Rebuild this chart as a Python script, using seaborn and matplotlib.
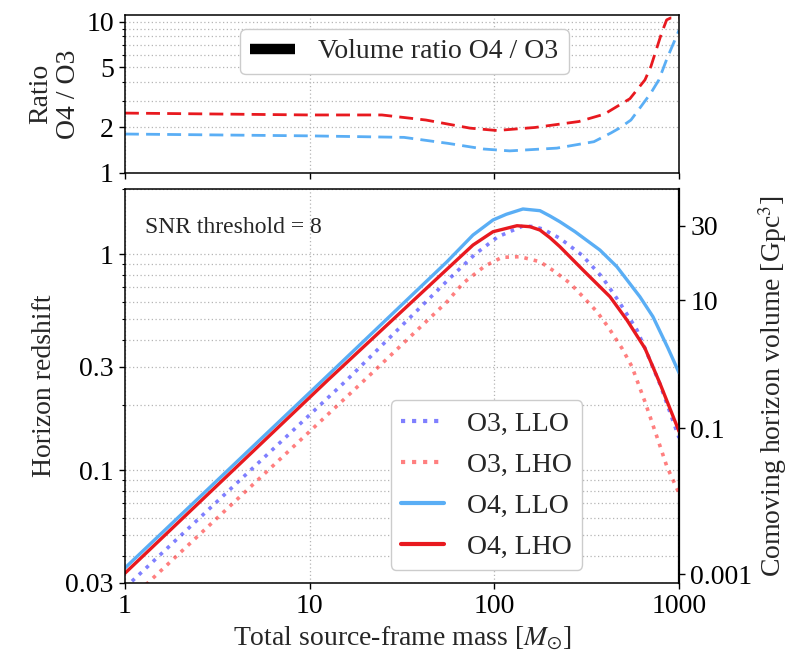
import numpy as np
import pandas as pd
import matplotlib
matplotlib.use("Agg")
import matplotlib.pyplot as plt
import seaborn as sns
from matplotlib.ticker import FixedLocator, NullLocator, LogLocator, NullFormatter
from matplotlib.lines import Line2D

# ---------------- data ----------------
o3_llo_mass = [1, 15.9, 56.1, 78.5, 104.6, 142.8, 162, 183.3, 226.5, 298, 382, 467, 592, 654, 788, 1000]
o3_llo_z = [0.0285, 0.261, 0.758, 0.997, 1.202, 1.348, 1.34, 1.305, 1.182, 0.989, 0.785, 0.612, 0.445, 0.366, 0.25, 0.141]

o3_lho_mass = [1, 20.7, 55.4, 67.6, 88.9, 109.9, 137.6, 176.6, 213, 257, 302, 359, 412, 491, 556, 654, 759, 860, 1000]
o3_lho_z = [0.0239, 0.270, 0.601, 0.732, 0.880, 0.965, 0.972, 0.921, 0.828, 0.732, 0.634, 0.541, 0.461, 0.366, 0.301, 0.207, 0.1426, 0.1036, 0.078]

o4_llo_mass = [1, 11.8, 55.4, 76.6, 98.3, 116, 142.8, 176.6, 200, 226.5, 273, 373, 461, 614, 722, 871, 1000]
o4_llo_z = [0.0352, 0.261, 0.921, 1.224, 1.437, 1.527, 1.616, 1.587, 1.50, 1.41, 1.27, 1.043, 0.873, 0.634, 0.513, 0.367, 0.282]

o4_lho_mass = [1, 12.56, 56.1, 76.6, 98.3, 132.6, 156, 176.6, 200, 226.5, 302, 423, 522, 654, 788, 1000]
o4_lho_z = [0.0333, 0.261, 0.859, 1.10, 1.268, 1.352, 1.338, 1.291, 1.19, 1.081, 0.843, 0.634, 0.495, 0.366, 0.252, 0.151]

ratio_lho_mass = [1, 10, 24.6, 42.6, 73.8, 103, 166, 287, 394, 542, 654, 704, 804, 857, 900, 1000]
ratio_lho = [2.49, 2.42, 2.42, 2.24, 1.98, 1.91, 2.0, 2.19, 2.45, 3.1, 4.13, 5.06, 8.4, 10.3, 10.6, 10.6]

ratio_llo_mass = [1, 10, 32.4, 56.1, 87.8, 121, 218, 346, 428, 472, 549, 622, 705, 778, 860, 1000]
ratio_llo = [1.81, 1.76, 1.72, 1.57, 1.44, 1.40, 1.46, 1.61, 1.84, 1.97, 2.24, 2.75, 3.39, 4.13, 5.7, 8.8]

# secondary (volume) axis: tick values and the redshift where each sits
volume_ticks = [0.001, 0.1, 10, 30]
volume_tick_labels = ["0.001", "0.1", "10", "30"]
volume_tick_redshift = [0.0330, 0.156, 0.612, 1.348]

x_ticks = [1, 10, 100, 1000]
x_tick_labels = ["1", "10", "100", "1000"]
z_ticks = [0.03, 0.1, 0.3, 1]
z_tick_labels = ["0.03", "0.1", "0.3", "1"]
ratio_ticks = [1, 2, 5, 10]
ratio_tick_labels = ["1", "2", "5", "10"]
ratio_minor_ticks = [3, 4, 6, 7, 8, 9]

# ---------------- style ----------------
sns.set_style("ticks")
plt.rcParams.update({
    "font.family": ["Liberation Serif", "DejaVu Serif"],
    "mathtext.fontset": "stix",
    "font.size": 20,
    "axes.edgecolor": "black",
    "axes.linewidth": 1.1,
    "xtick.color": "black",
    "ytick.color": "black",
    "xtick.direction": "out",
    "ytick.direction": "out",
    "xtick.major.size": 4.5,
    "ytick.major.size": 4.5,
    "xtick.minor.size": 2.3,
    "ytick.minor.size": 2.3,
    "xtick.major.width": 1.0,
    "ytick.major.width": 1.0,
    "ytick.minor.width": 0.8,
    "legend.fontsize": 20,
})

C_LLO = "#5aaef5"
C_LHO = "#e8191f"
GRID = dict(ls=(0, (1, 2)), color="#b5b5b5", lw=0.9)

fig = plt.figure(figsize=(7.94, 6.51), dpi=100)
ax_top = fig.add_axes([0.1574, 0.7343, 0.6978, 0.2427])
ax = fig.add_axes([0.1574, 0.1045, 0.6978, 0.6052])

# ---------------- top panel: ratio ----------------
df_r_lho = pd.DataFrame({"mass": ratio_lho_mass, "ratio": ratio_lho})
df_r_llo = pd.DataFrame({"mass": ratio_llo_mass, "ratio": ratio_llo})
sns.lineplot(data=df_r_llo, x="mass", y="ratio", ax=ax_top, color=C_LLO, lw=2.0)
ax_top.lines[-1].set_dashes([5, 2.6])
sns.lineplot(data=df_r_lho, x="mass", y="ratio", ax=ax_top, color=C_LHO, lw=2.0)
ax_top.lines[-1].set_dashes([5, 2.6])

ax_top.set_xscale("log")
ax_top.set_yscale("log")
ax_top.set_xlim(1, 1000)
ax_top.set_ylim(1, 11.1)
ax_top.xaxis.set_major_locator(FixedLocator(x_ticks))
ax_top.xaxis.set_minor_locator(NullLocator())
ax_top.set_xticklabels([])
ax_top.yaxis.set_major_locator(FixedLocator(ratio_ticks))
ax_top.set_yticklabels(ratio_tick_labels)
ax_top.yaxis.set_minor_locator(FixedLocator(ratio_minor_ticks))
ax_top.yaxis.set_minor_formatter(NullFormatter())
ax_top.grid(True, which="both", **GRID)
ax_top.set_axisbelow(True)
ax_top.set_xlabel("")
ax_top.set_ylabel("Ratio\nO4 / O3", fontsize=20, linespacing=1.12, labelpad=4)
for s in ax_top.spines.values():
    s.set_visible(True)
    s.set_color("black")

h_top = [Line2D([0], [0], color="black", lw=7.5, solid_capstyle="butt")]
ax_top.legend(h_top, ["Volume ratio O4 / O3"], loc="upper center",
              bbox_to_anchor=(0.5045, 0.911), borderaxespad=0, handlelength=1.6,
              borderpad=0.36, handletextpad=0.85, fancybox=True, framealpha=1,
              edgecolor="#cccccc")

# ---------------- bottom panel: horizon redshift ----------------
series = [
    (o3_llo_mass, o3_llo_z, "O3, LLO", "blue", ":", 0.5, 2.6),
    (o3_lho_mass, o3_lho_z, "O3, LHO", "red", ":", 0.5, 2.6),
    (o4_llo_mass, o4_llo_z, "O4, LLO", C_LLO, "-", 1.0, 2.4),
    (o4_lho_mass, o4_lho_z, "O4, LHO", C_LHO, "-", 1.0, 2.4),
]
for m, z, lab, col, ls, al, lw in series:
    d = pd.DataFrame({"mass": m, "z": z})
    sns.lineplot(data=d, x="mass", y="z", ax=ax, color=col, linestyle=ls,
                 alpha=al, lw=lw, label=lab)
for ln in ax.lines:
    ln.set_solid_joinstyle("round")
    ln.set_dash_joinstyle("round")

ax.set_xscale("log")
ax.set_yscale("log")
ax.set_xlim(1, 1000)
ax.set_ylim(0.03, 2.0)
ax.xaxis.set_major_locator(FixedLocator(x_ticks))
ax.set_xticklabels(x_tick_labels)
ax.xaxis.set_minor_locator(NullLocator())
ax.yaxis.set_major_locator(FixedLocator(z_ticks))
ax.set_yticklabels(z_tick_labels)
ax.yaxis.set_minor_locator(LogLocator(base=10, subs=np.arange(2, 10)))
ax.yaxis.set_minor_formatter(NullFormatter())
ax.grid(True, which="major", axis="x", **GRID)
ax.grid(True, which="both", axis="y", **GRID)
ax.set_axisbelow(True)
ax.set_xlabel(r"Total source-frame mass [$M_{\odot}$]", fontsize=20, labelpad=4)
ax.set_ylabel("Horizon redshift", fontsize=20, labelpad=6)
for s in ax.spines.values():
    s.set_visible(True)
    s.set_color("black")

ax.text(0.036, 0.888, "SNR threshold = 8", transform=ax.transAxes,
        fontsize=17, va="baseline", ha="left")

leg = ax.legend(loc="lower right", bbox_to_anchor=(0.825, 0.033), borderaxespad=0,
                handlelength=1.55, labelspacing=0.56, borderpad=0.38,
                handletextpad=0.8, fancybox=True, framealpha=1, edgecolor="#cccccc")
for lh in leg.get_lines():
    lh.set_linewidth(3.0)

# secondary axis: comoving horizon volume (piecewise log-log map from ticks)
_lz = np.log10(volume_tick_redshift)
_lv = np.log10(volume_ticks)


def _pw(x, xp, fp):
    x = np.asarray(x, dtype=float)
    y = np.interp(x, xp, fp)
    s0 = (fp[1] - fp[0]) / (xp[1] - xp[0])
    s1 = (fp[-1] - fp[-2]) / (xp[-1] - xp[-2])
    y = np.where(x < xp[0], fp[0] + s0 * (x - xp[0]), y)
    y = np.where(x > xp[-1], fp[-1] + s1 * (x - xp[-1]), y)
    return y


def z_to_vol(z):
    z = np.clip(np.asarray(z, dtype=float), 1e-30, None)
    return 10 ** _pw(np.log10(z), _lz, _lv)


def vol_to_z(v):
    v = np.clip(np.asarray(v, dtype=float), 1e-30, None)
    return 10 ** _pw(np.log10(v), _lv, _lz)


sec = ax.secondary_yaxis("right", functions=(z_to_vol, vol_to_z))
sec.set_ticks(volume_ticks, labels=volume_tick_labels)
sec.yaxis.set_minor_locator(NullLocator())
sec.tick_params(axis="y", which="major", length=4.5, width=1.0, labelsize=20)
sec.spines["right"].set_linewidth(1.6)
sec.set_ylabel(r"Comoving horizon volume [Gpc$^3$]", fontsize=20, labelpad=3)

ax.tick_params(labelsize=20)
ax_top.tick_params(labelsize=20)

fig.savefig("out.png", dpi=100)
